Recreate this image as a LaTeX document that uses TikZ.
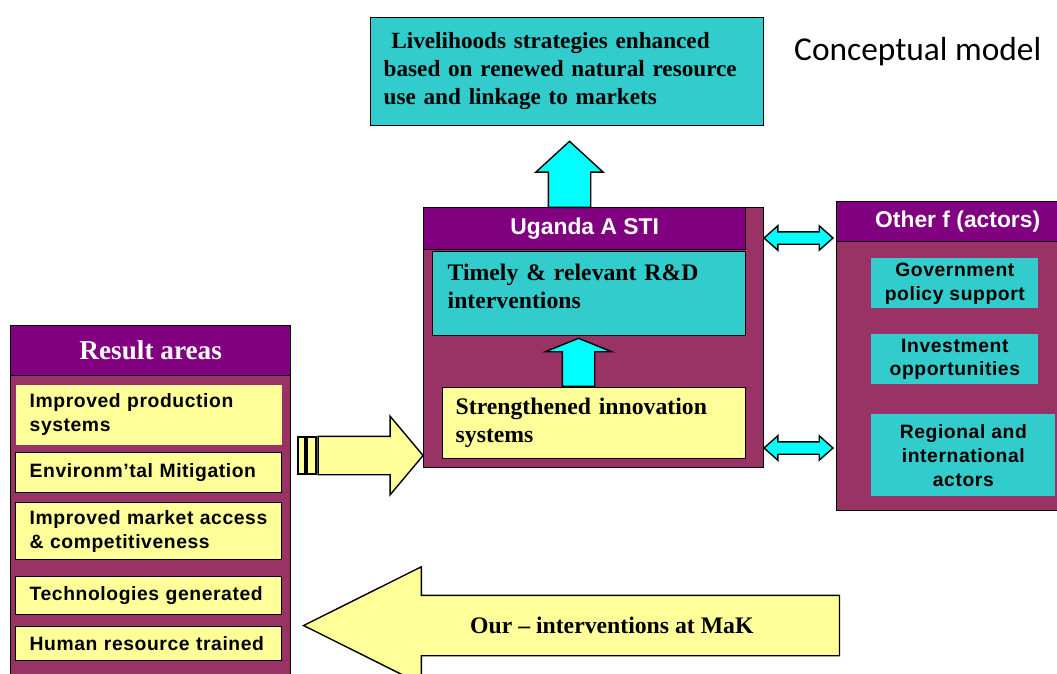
\documentclass[tikz,border=0pt]{standalone}
\usepackage{fontspec}
\setmainfont{Liberation Serif}
\setsansfont{Liberation Sans}[LetterSpace=3]
\newfontfamily\headsans{Liberation Sans}
\newfontfamily\calibri{Carlito}
\usetikzlibrary{arrows.meta,positioning,shapes.arrows,fit}

\definecolor{astipurple}{HTML}{800080}
\definecolor{astimaroon}{HTML}{993366}
\definecolor{asticyan}{HTML}{33CCCC}
\definecolor{arrowcyan}{HTML}{00FFFF}
\definecolor{resultyellow}{HTML}{FFFF99}

\begin{document}
\begin{tikzpicture}[x=0.02cm,y=-0.02cm]

		\tikzstyle{panel}=[draw=black,line width=0.8pt,fill=astimaroon,inner sep=0pt,anchor=north west]
		\tikzstyle{header}=[draw=black,line width=0.8pt,fill=astipurple,text=white,inner sep=0pt,anchor=north west,font=\headsans\bfseries\fontsize{13}{15}\selectfont]
		\tikzstyle{serifbox}=[draw=black,line width=0.8pt,inner sep=0pt,anchor=north west,align=left,font=\bfseries\fontsize{13.5}{16}\selectfont]
		\tikzstyle{resultbox}=[draw=black,line width=0.8pt,fill=resultyellow,inner sep=0pt,anchor=north west,minimum width=5.32cm,align=left,text width=4.76cm,font=\sffamily\bfseries\fontsize{11}{13.6}\selectfont]
		\tikzstyle{actorbox}=[fill=asticyan,inner sep=0pt,anchor=north west,align=center,font=\sffamily\bfseries\fontsize{11}{13.6}\selectfont]
		\tikzstyle{blockarrow}=[single arrow,draw=black,line width=0.8pt,inner xsep=0pt,minimum width=1pt]
		\tikzstyle{linkarrow}=[double arrow,draw=black,line width=0.8pt,fill=arrowcyan,inner xsep=0pt,inner ysep=0.11cm,minimum height=1.38cm,double arrow head extend=0.12cm,double arrow tip angle=83]
		\tikzstyle{stripe}=[draw=black,line width=0.8pt,fill=resultyellow,inner sep=0pt]

		\useasboundingbox (0,0) rectangle (1057,673);

		% goal
		\node[serifbox,fill=asticyan,minimum width=7.86cm,minimum height=2.16cm,text width=7.34cm,font=\bfseries\fontsize{13.2}{16}\selectfont] (goal) at (370,17)
			{\ Livelihoods strategies enhanced\\based on renewed natural resource\\use and linkage to markets\\[-12pt]~};
		\node[font=\calibri\fontsize{19}{22}\selectfont,anchor=west] (title) at (788,52) {Conceptual model};

		% Uganda ASTI
		\node[panel,minimum width=6.8cm,minimum height=5.2cm] (asti) at (423,207) {};
		\node[header,minimum width=6.44cm,minimum height=0.84cm] (astihead) at (423,207) {Uganda A STI};
		\node[serifbox,fill=asticyan,minimum width=6.26cm,minimum height=1.68cm,text width=5.66cm] (rnd) at (432,251)
			{Timely \& relevant R\&D\\interventions\\[-8pt]~};
		\node[serifbox,fill=resultyellow,minimum width=6.06cm,minimum height=1.42cm,text width=5.54cm] (innov) at (442,387)
			{Strengthened innovation\\systems};

		\node[blockarrow,fill=arrowcyan,rotate=90,anchor=tail,minimum height=1.32cm,inner ysep=0.41cm,single arrow head extend=0.25cm,single arrow tip angle=95] (toGoal) at (569.5,208) {};
		\node[blockarrow,fill=arrowcyan,rotate=90,anchor=tail,minimum height=0.96cm,inner ysep=0.31cm,single arrow head extend=0.34cm,single arrow tip angle=136] (toRnd) at (578.5,387) {};

		% other actors
		\node[panel,minimum width=4.84cm,minimum height=6.18cm] (other) at (836,201) {};
		\node[header,minimum width=4.84cm,minimum height=0.8cm] (otherhead) at (836,201) {Other f (actors)};
		\node[actorbox,minimum width=3.34cm,minimum height=1cm] (gov) at (871,258) {Government\\policy support};
		\node[actorbox,minimum width=3.34cm,minimum height=1cm] (invest) at (871,334) {Investment\\opportunities};
		\node[actorbox,minimum width=3.68cm,minimum height=1.64cm] (region) at (871,414) {Regional and\\international\\actors};

		\node[linkarrow] (linkTop) at (798.5,238) {};
		\node[linkarrow] (linkBottom) at (798.5,448) {};

		% result areas
		\node[panel,minimum width=5.6cm,minimum height=7.3cm] (results) at (10,325) {};
		\node[header,font=\bfseries\fontsize{15.5}{17}\selectfont,minimum width=5.6cm,minimum height=1cm] (resulthead) at (10,325) {Result areas};
		\node[resultbox,draw=none,minimum height=1.2cm] (prod) at (15,384) {Improved production\\systems};
		\node[resultbox,minimum height=0.8cm] (env) at (15,452) {Environm'tal Mitigation};
		\node[resultbox,minimum height=1.14cm] (market) at (15,502) {Improved market access\\\& competitiveness};
		\node[resultbox,minimum height=0.76cm] (tech) at (15,576) {Technologies generated};
		\node[resultbox,minimum height=0.68cm] (human) at (15,626) {Human resource trained};

		% arrows between results and ASTI
		\node[stripe,fit={(298,437) (305,474)}] (stripeA) {};
		\node[stripe,fit={(307,437) (316,474)}] (stripeB) {};
		\node[blockarrow,fill=resultyellow,anchor=tip,minimum height=2.1cm,inner ysep=0.37cm,single arrow head extend=0.4cm,single arrow tip angle=100] (toAsti) at (424,455.5) {};

		\node[blockarrow,fill=resultyellow,shape border rotate=180,anchor=tip,minimum height=10.72cm,text height=0.3cm,text depth=0pt,inner ysep=0.44cm,single arrow head extend=0.57cm,single arrow tip angle=53,font=\bfseries\fontsize{13.5}{15}\selectfont] (toResults) at (302,625.5) {\hspace*{0.4cm}Our -- interventions at MaK};

\end{tikzpicture}
\end{document}
